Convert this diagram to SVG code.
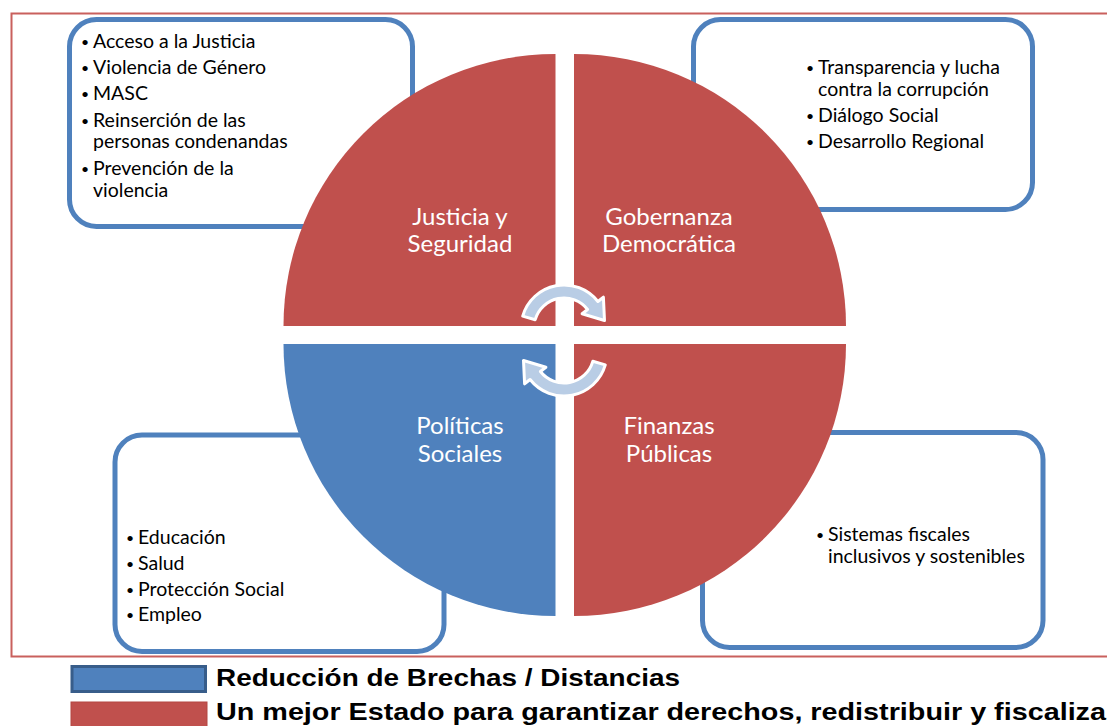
<svg xmlns="http://www.w3.org/2000/svg" width="1107" height="726" viewBox="0 0 1107 726">
<style>
.box{fill:#ffffff;stroke:#4f81bd;stroke-width:5}
.red{fill:#c0504d}
.blue{fill:#4f81bd}
.item{font-family:Lato,"Liberation Sans",sans-serif;font-size:19.5px;fill:#000000}
.bul{font-size:14px}
.lbl{font-family:Lato,"Liberation Sans",sans-serif;font-size:24px;fill:#ffffff;text-anchor:middle}
.leg{font-family:"Liberation Sans",Arial,sans-serif;font-size:24px;font-weight:bold;fill:#000000}
.arrow{fill:#b9cde5;stroke:#ffffff;stroke-width:3;stroke-linejoin:round}
</style>
<rect width="1107" height="726" fill="#ffffff"/>
<rect x="11.5" y="13.5" width="1110" height="643" fill="none" stroke="#c9605d" stroke-width="2"/>

<g id="box-justicia">
<rect class="box" x="69.5" y="19.5" width="343" height="207" rx="27"/>
<text class="item"><tspan class="bul" x="81" y="47">•</tspan><tspan x="93" y="48">Acceso a la Justicia</tspan>
<tspan class="bul" x="81" y="73">•</tspan><tspan x="93" y="74">Violencia de Género</tspan>
<tspan class="bul" x="81" y="99">•</tspan><tspan x="93" y="100">MASC</tspan>
<tspan class="bul" x="81" y="125.5">•</tspan><tspan x="93" y="126.5">Reinserción de las</tspan>
<tspan x="93" y="148">personas condenandas</tspan>
<tspan class="bul" x="81" y="174">•</tspan><tspan x="93" y="175">Prevención de la</tspan>
<tspan x="93" y="196.5">violencia</tspan></text>
</g>

<g id="box-gobernanza">
<rect class="box" x="693.5" y="19.5" width="339" height="190" rx="27"/>
<text class="item"><tspan class="bul" x="806" y="73">•</tspan><tspan x="818" y="74">Transparencia y lucha</tspan>
<tspan x="818" y="95.5">contra la corrupción</tspan>
<tspan class="bul" x="806" y="120.5">•</tspan><tspan x="818" y="121.5">Diálogo Social</tspan>
<tspan class="bul" x="806" y="146.5">•</tspan><tspan x="818" y="147.5">Desarrollo Regional</tspan></text>
</g>

<g id="box-politicas">
<rect class="box" x="115" y="435" width="329" height="216.5" rx="27"/>
<text class="item"><tspan class="bul" x="126" y="543">•</tspan><tspan x="138" y="544">Educación</tspan>
<tspan class="bul" x="126" y="568.5">•</tspan><tspan x="138" y="569.5">Salud</tspan>
<tspan class="bul" x="126" y="594.5">•</tspan><tspan x="138" y="595.5">Protección Social</tspan>
<tspan class="bul" x="126" y="620">•</tspan><tspan x="138" y="621">Empleo</tspan></text>
</g>

<g id="box-finanzas">
<rect class="box" x="702.5" y="432.5" width="340.5" height="215" rx="27"/>
<text class="item"><tspan class="bul" x="816" y="539.5">•</tspan><tspan x="828" y="540.5">Sistemas fiscales</tspan>
<tspan x="828" y="563">inclusivos y sostenibles</tspan></text>
</g>

<g id="q-justicia">
<path class="red" d="M555.5 326 L283.5 326 A272 272 0 0 1 555.5 54 Z"/>
<text class="lbl"><tspan x="460" y="225">Justicia y</tspan><tspan x="460" y="252">Seguridad</tspan></text>
</g>
<g id="q-gobernanza">
<path class="red" d="M574 326 L574 54 A272 272 0 0 1 846 326 Z"/>
<text class="lbl"><tspan x="669" y="225">Gobernanza</tspan><tspan x="669" y="252">Democrática</tspan></text>
</g>
<g id="q-finanzas">
<path class="red" d="M574 344 L846 344 A272 272 0 0 1 574 616 Z"/>
<text class="lbl"><tspan x="669" y="434">Finanzas</tspan><tspan x="669" y="461.5">Públicas</tspan></text>
</g>
<g id="q-politicas">
<path class="blue" d="M555.5 344 L555.5 616 A272 272 0 0 1 283.5 344 Z"/>
<text class="lbl"><tspan x="460" y="434">Políticas</tspan><tspan x="460" y="461.5">Sociales</tspan></text>
</g>

<g id="connectors">
<path class="arrow" d="M522.7 316.1 A43 43 0 0 1 597.9 301.5 L603.4 297.2 L604.5 320.5 L582.1 313.8 L587.6 309.5 A30 30 0 0 0 535.2 319.7 Z"/>
<path class="arrow" transform="rotate(180 564 340.5)" d="M522.7 316.1 A43 43 0 0 1 597.9 301.5 L603.4 297.2 L604.5 320.5 L582.1 313.8 L587.6 309.5 A30 30 0 0 0 535.2 319.7 Z"/>
</g>

<g id="legend">
<rect x="72" y="666.5" width="133.5" height="25" fill="#4f81bd" stroke="#385d8a" stroke-width="3"/>
<rect x="71" y="702" width="136" height="30" fill="#c0504d" stroke="#b34643" stroke-width="1"/>
<text class="leg" x="216" y="686" textLength="464" lengthAdjust="spacingAndGlyphs">Reducción de Brechas / Distancias</text>
<text class="leg" x="216" y="720" textLength="890" lengthAdjust="spacingAndGlyphs">Un mejor Estado para garantizar derechos, redistribuir y fiscaliza</text>
</g>
</svg>
